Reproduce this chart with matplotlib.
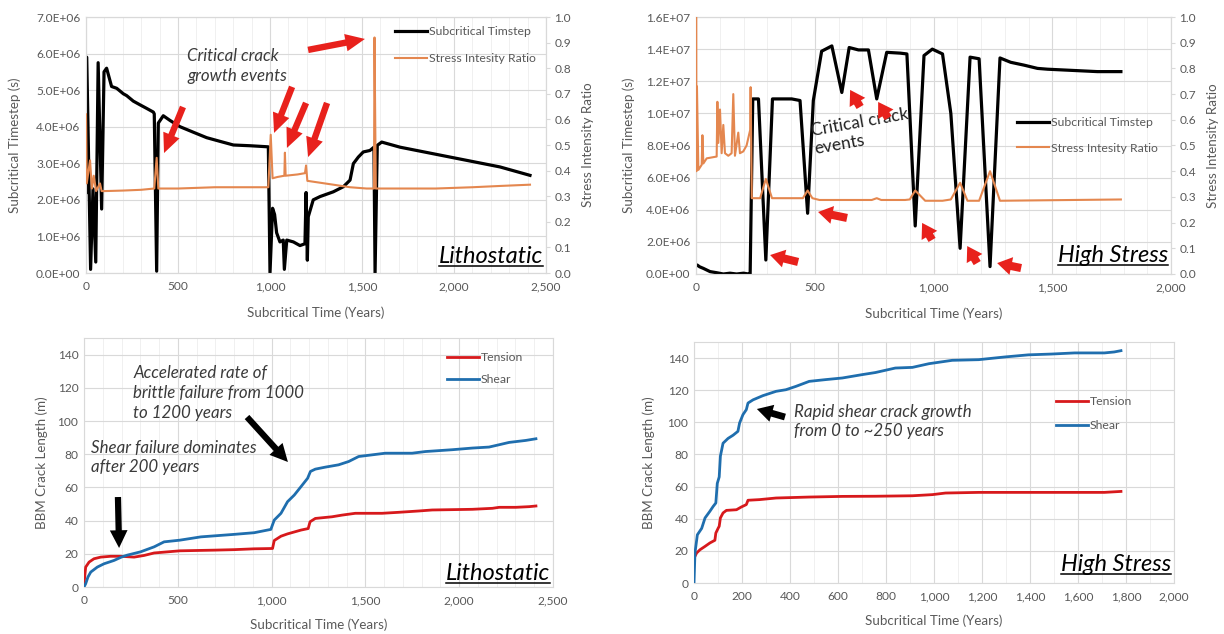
import matplotlib
matplotlib.use("Agg")
import matplotlib.pyplot as plt
from matplotlib.ticker import MultipleLocator, FuncFormatter
from matplotlib.lines import Line2D

plt.rcParams['font.family'] = ['Lato', 'DejaVu Sans']

# ---------------- DATA ----------------
# Top-left: Lithostatic, subcritical timestep (s, x1e6) and stress intensity ratio
litho_ts_years = [0, 4, 25, 38, 53, 66, 85, 98, 112, 139, 167, 203, 221, 257, 293, 330, 366, 371, 384, 393,
                  420, 457, 511, 583, 656, 728, 801, 891, 991, 1000, 1014, 1025, 1036, 1054, 1072, 1078, 1091,
                  1127, 1163, 1190, 1196, 1203, 1208, 1235, 1272, 1344, 1399, 1435, 1453, 1480, 1507, 1543,
                  1565, 1571, 1583, 1607, 1707, 1888, 2069, 2250, 2413]
litho_ts_e6 = [2.2, 5.9, 0.1, 2.3, 0.3, 5.75, 1.75, 5.5, 5.6, 5.1, 5.05, 4.9, 4.85, 4.7, 4.6, 4.5, 4.4, 4.35,
               0.05, 4.1, 4.3, 4.17, 4.0, 3.85, 3.7, 3.6, 3.5, 3.48, 3.45, 0.0, 1.77, 1.6, 1.1, 0.85, 0.9, 0.1,
               0.9, 0.85, 0.75, 0.8, 2.2, 0.35, 1.54, 2.0, 2.09, 2.22, 2.36, 2.54, 2.99, 3.17, 3.31, 3.35, 3.44,
               0.0, 3.49, 3.58, 3.44, 3.26, 3.08, 2.90, 2.67]
litho_sir_years = [0, 4, 22, 32, 42, 55, 76, 85, 103, 200, 300, 371, 384, 393, 500, 700, 991, 1004, 1014, 1040,
                   1078, 1081, 1085, 1150, 1190, 1196, 1203, 1250, 1344, 1435, 1525, 1565, 1568, 1575, 1700,
                   1900, 2100, 2250, 2413]
litho_sir = [0.62, 0.35, 0.44, 0.33, 0.38, 0.32, 0.35, 0.32, 0.32, 0.322, 0.325, 0.33, 0.45, 0.33, 0.33, 0.335,
             0.335, 0.54, 0.37, 0.375, 0.38, 0.47, 0.38, 0.385, 0.39, 0.42, 0.36, 0.355, 0.345, 0.335, 0.33,
             0.33, 0.92, 0.33, 0.33, 0.33, 0.335, 0.34, 0.345]

# Top-right: High Stress
high_ts_years = [0, 5, 15, 31, 59, 87, 115, 143, 171, 200, 222, 228, 239, 263, 294, 322, 403, 438, 470, 494,
                 529, 572, 614, 645, 684, 726, 761, 803, 860, 888, 923, 960, 995, 1038, 1073, 1112, 1154, 1192,
                 1238, 1280, 1325, 1382, 1438, 1480, 1550, 1620, 1690, 1789]
high_ts_e6 = [0.5, 0.56, 0.45, 0.35, 0.15, 0.08, 0.0, 0.05, 0.0, 0.05, 0.0, 0.0, 10.9, 10.9, 0.87, 10.9, 10.9,
              10.8, 3.78, 10.8, 13.87, 14.2, 11.3, 14.1, 13.95, 13.95, 10.9, 13.8, 13.75, 13.7, 2.99, 13.6,
              14.0, 13.7, 10.0, 1.6, 13.5, 13.4, 0.46, 13.45, 13.18, 13.0, 12.8, 12.75, 12.7, 12.65, 12.6, 12.6]
high_sir_years = [0, 0.5, 2, 4, 10, 24, 27, 31, 45, 87, 90, 94, 101, 108, 115, 122, 136, 150, 157, 164, 178,
                  185, 199, 213, 228, 230, 235, 270, 294, 320, 450, 470, 490, 520, 600, 700, 740, 761, 780, 880,
                  900, 923, 965, 1038, 1073, 1112, 1143, 1192, 1238, 1280, 1789]
high_sir = [0.73, 1.0, 0.40, 0.73, 0.405, 0.425, 0.54, 0.43, 0.45, 0.457, 0.67, 0.51, 0.64, 0.47, 0.58, 0.47,
            0.46, 0.47, 0.70, 0.46, 0.55, 0.47, 0.477, 0.50, 0.56, 0.727, 0.295, 0.295, 0.37, 0.295, 0.295,
            0.325, 0.295, 0.288, 0.288, 0.288, 0.288, 0.295, 0.288, 0.288, 0.29, 0.325, 0.285, 0.285, 0.29,
            0.355, 0.285, 0.285, 0.40, 0.285, 0.29]

# Bottom-left: Lithostatic BBM crack length (m)
litho_ten_years = [0, 9, 27, 53, 89, 142, 196, 267, 320, 374, 511, 694, 801, 907, 1005, 1014, 1050, 1085, 1157,
                   1195, 1205, 1233, 1286, 1322, 1375, 1446, 1589, 1678, 1785, 1856, 2070, 2177, 2213, 2302,
                   2373, 2409]
litho_tension = [2, 12, 15, 17, 18, 18.5, 18.5, 18, 19, 20.5, 21.8, 22.2, 22.5, 23, 23.2, 28, 30.6, 32, 34.3,
                 35.2, 39.3, 41.3, 41.9, 42.3, 43.3, 44.4, 44.4, 45, 45.8, 46.4, 46.8, 47.4, 48, 48, 48.4, 48.8]
litho_sh_years = [0, 9, 21, 36, 71, 107, 160, 199, 231, 302, 374, 427, 510, 623, 800, 907, 996, 1014, 1050,
                  1085, 1121, 1157, 1171, 1192, 1207, 1233, 1286, 1357, 1411, 1464, 1535, 1606, 1749, 1820,
                  1963, 2070, 2159, 2213, 2266, 2355, 2409]
litho_shear = [0, 2, 6, 9, 12, 14, 16, 18, 19.2, 21.2, 24.2, 27.2, 28.2, 30.2, 31.7, 32.7, 34.7, 40.3, 44.4,
               51.4, 55.4, 60.5, 62.5, 65.5, 69.6, 71, 72.2, 73.6, 75.6, 78.6, 79.6, 80.6, 80.6, 81.6, 82.7,
               83.7, 84.3, 85.7, 87.1, 88.3, 89.3]

# Bottom-right: High Stress BBM crack length (m)
high_ten_years = [0, 4, 11, 25, 46, 66, 87, 91, 101, 105, 110, 121, 135, 177, 197, 218, 225, 273, 342, 480,
                  618, 756, 910, 993, 1048, 1186, 1462, 1710, 1779]
high_tension = [16, 16.6, 18.7, 20.7, 22.8, 24.9, 26.6, 31.1, 34.2, 35.3, 40.5, 43.6, 45.2, 45.6, 47.3, 48.8,
                51.5, 51.9, 52.9, 53.5, 53.9, 54.0, 54.3, 55.0, 56.0, 56.4, 56.4, 56.4, 57.0]
high_sh_years = [0, 4, 14, 32, 46, 66, 80, 91, 97, 105, 110, 121, 142, 163, 183, 190, 204, 218, 225, 246, 287,
                 342, 383, 425, 480, 549, 618, 701, 756, 839, 910, 979, 1076, 1186, 1296, 1393, 1489, 1586,
                 1710, 1751, 1779]
high_shear = [0, 18.7, 30, 34, 40.5, 44.6, 47.7, 49.8, 62, 66, 79, 87, 90, 92, 94.4, 99.6, 104.8, 107.9, 112,
              114, 116.6, 119.3, 120.3, 122.4, 125.5, 126.6, 127.6, 129.7, 131, 133.8, 134.2, 136.5, 138.6, 139,
              140.7, 142, 142.5, 143.2, 143.2, 143.8, 144.6]

# labels
xlabel = "Subcritical Time (Years)"
ylabel_ts = "Subcritical Timestep (s)"
ylabel_sir = "Stress Intensity Ratio"
ylabel_len = "BBM Crack Length (m)"
leg_ts = ["Subcritical Timstep", "Stress Intesity Ratio"]
leg_len = ["Tension", "Shear"]

# ---------------- STYLE ----------------
W, H = 1224, 634
BLACK = "#000000"
ORANGE = "#E4874F"
RED = "#D7191C"
BLUE = "#1F6EAE"
ARROW_RED = "#E8211C"
GRID = "#D9D9D9"
MINOR = "#EEEEEE"
TXT = "#595959"
NOTE = "#3A3A3A"
TICKFS = 8.6
LABFS = 9.6
LEGFS = 8.8
NOTEFS = 12.2

fig = plt.figure(figsize=(W / 100, H / 100), dpi=100)


def add_ax(x0, x1, ytop, ybot):
    return fig.add_axes([x0 / W, 1 - ybot / H, (x1 - x0) / W, (ybot - ytop) / H])


def style(ax, minor_x=100):
    for s in ax.spines.values():
        s.set_color(GRID)
        s.set_linewidth(0.8)
    ax.tick_params(axis='both', which='both', length=0, colors=TXT, labelsize=TICKFS)
    ax.xaxis.set_minor_locator(MultipleLocator(minor_x))
    ax.grid(True, which='major', color=GRID, lw=0.8)
    ax.grid(True, which='minor', axis='x', color=MINOR, lw=0.6)
    ax.set_axisbelow(True)
    ax.xaxis.set_major_formatter(FuncFormatter(lambda v, p: f"{v:,.0f}"))
    ax.tick_params(axis='x', pad=6)
    ax.tick_params(axis='y', pad=4)


def sci(v, p):
    return f"{v:.1E}"


def arrow(ax, tail, head, color, tw, hw, hl, ms, trans=None):
    ax.annotate("", xy=head, xytext=tail, xycoords=trans or 'data', textcoords=trans or 'data',
                arrowprops=dict(arrowstyle=f"simple,head_length={hl},head_width={hw},tail_width={tw}",
                                color=color, lw=0, shrinkA=0, shrinkB=0, mutation_scale=ms),
                annotation_clip=False)


titles = []


def title_text(ax, x, y, s):
    t = ax.text(x, y, s, transform=ax.transAxes, ha='right', va='baseline', fontsize=17,
                style='italic', color=BLACK, zorder=10)
    titles.append((ax, t, y))


def twin_style(axb, label):
    axb.set_ylim(0, 1.0)
    axb.yaxis.set_major_locator(MultipleLocator(0.1))
    axb.yaxis.set_major_formatter(FuncFormatter(lambda v, p: f"{v:.1f}"))
    for s in axb.spines.values():
        s.set_color(GRID)
        s.set_linewidth(0.8)
    axb.tick_params(axis='y', length=3, color=GRID, labelcolor=TXT, labelsize=TICKFS, pad=3)
    axb.set_ylabel(label, fontsize=LABFS, color=TXT, labelpad=8)


# ---------------- TOP-LEFT ----------------
ax1 = add_ax(86, 546, 17, 273)
style(ax1)
ax1.plot(litho_ts_years, [v * 1e6 for v in litho_ts_e6], color=BLACK, lw=2.3, zorder=3)
ax1.set_xlim(0, 2500)
ax1.set_ylim(0, 7e6)
ax1.xaxis.set_major_locator(MultipleLocator(500))
ax1.yaxis.set_major_locator(MultipleLocator(1e6))
ax1.yaxis.set_major_formatter(FuncFormatter(sci))
ax1.set_xlabel(xlabel, fontsize=LABFS, color=TXT, labelpad=10)
ax1.set_ylabel(ylabel_ts, fontsize=LABFS, color=TXT, labelpad=11)
ax1b = ax1.twinx()
ax1b.plot(litho_sir_years, litho_sir, color=ORANGE, lw=1.5, zorder=3)
twin_style(ax1b, ylabel_sir)
h1 = [Line2D([], [], color=BLACK, lw=2.3), Line2D([], [], color=ORANGE, lw=1.5)]
ax1b.legend(h1, leg_ts, loc='upper left', bbox_to_anchor=(395 / W, 1 - 26 / H), bbox_transform=fig.transFigure,
            frameon=False, fontsize=LEGFS, labelcolor=TXT, handlelength=2.6, handletextpad=0.15,
            labelspacing=1.35, borderpad=0, borderaxespad=0)
ax1b.text(549, 5.66e6, "Critical crack\ngrowth events", transform=ax1.transData, ha='left', va='center',
          fontsize=NOTEFS, style='italic', color=NOTE, linespacing=1.3)
tl_arrows = [((527, 4.54e6), (424, 3.28e6)), ((1120, 5.09e6), (1022, 3.83e6)),
             ((1196, 4.65e6), (1092, 3.42e6)), ((1310, 4.65e6), (1207, 3.17e6)),
             ((1207, 6.10e6), (1516, 6.40e6))]
for tail, head in tl_arrows:
    arrow(ax1b, tail, head, ARROW_RED, 0.33, 0.9, 1.0, 14, trans=ax1.transData)
title_text(ax1b, 0.9935, 0.04, "Lithostatic")

# ---------------- TOP-RIGHT ----------------
ax2 = add_ax(696, 1171, 17, 274)
style(ax2)
ax2.plot(high_ts_years, [v * 1e6 for v in high_ts_e6], color=BLACK, lw=2.3, zorder=3)
ax2.set_xlim(0, 2000)
ax2.set_ylim(0, 1.6e7)
ax2.xaxis.set_major_locator(MultipleLocator(500))
ax2.yaxis.set_major_locator(MultipleLocator(2e6))
ax2.yaxis.set_major_formatter(FuncFormatter(sci))
ax2.set_xlabel(xlabel, fontsize=LABFS, color=TXT, labelpad=10)
ax2.set_ylabel(ylabel_ts, fontsize=LABFS, color=TXT, labelpad=8)
ax2b = ax2.twinx()
ax2b.plot(high_sir_years, high_sir, color=ORANGE, lw=1.5, zorder=3)
twin_style(ax2b, ylabel_sir)
ax2b.legend(h1, leg_ts, loc='upper left', bbox_to_anchor=(1017 / W, 1 - 117 / H), bbox_transform=fig.transFigure,
            frameon=False, fontsize=LEGFS, labelcolor=TXT, handlelength=2.6, handletextpad=0.15,
            labelspacing=1.2, borderpad=0, borderaxespad=0)
ax2b.text(501, 7.6e6, "Critical crack\nevents", transform=ax2.transData, ha='left', va='baseline',
          rotation=10, rotation_mode='anchor', fontsize=12.5, color="#222222", linespacing=1.2)
tr_arrows = [((430, 0.75e6), (312, 1.18e6)), ((636, 3.49e6), (514, 3.86e6)), ((691, 10.4e6), (649, 11.46e6)),
             ((809, 9.71e6), (767, 10.71e6)), ((994, 2.12e6), (952, 3.18e6)), ((1184, 0.68e6), (1142, 1.74e6)),
             ((1369, 0.37e6), (1268, 0.68e6))]
for tail, head in tr_arrows:
    arrow(ax2b, tail, head, ARROW_RED, 0.45, 1.0, 0.8, 13, trans=ax2.transData)
title_text(ax2b, 0.9935, 0.045, "High Stress")

# ---------------- BOTTOM-LEFT ----------------
ax3 = add_ax(84, 553, 338, 587)
style(ax3)
ax3.plot(litho_ten_years, litho_tension, color=RED, lw=2.0, zorder=3)
ax3.plot(litho_sh_years, litho_shear, color=BLUE, lw=2.0, zorder=3)
ax3.set_xlim(0, 2500)
ax3.set_ylim(0, 150)
ax3.xaxis.set_major_locator(MultipleLocator(500))
ax3.set_yticks(range(0, 141, 20))
ax3.set_xlabel(xlabel, fontsize=LABFS, color=TXT, labelpad=9)
ax3.set_ylabel(ylabel_len, fontsize=LABFS, color=TXT, labelpad=7)
h2 = [Line2D([], [], color=RED, lw=2.0), Line2D([], [], color=BLUE, lw=2.0)]
ax3.legend(h2, leg_len, loc='upper left', bbox_to_anchor=(447 / W, 1 - 352 / H), bbox_transform=fig.transFigure,
           frameon=False, fontsize=LEGFS, labelcolor=TXT, handlelength=2.6, handletextpad=0.15,
           labelspacing=0.9, borderpad=0, borderaxespad=0)
ax3.text(262, 117, "Accelerated rate of\nbrittle failure from 1000\nto 1200 years", ha='left', va='center',
         fontsize=NOTEFS, style='italic', color=NOTE, linespacing=1.3)
ax3.text(38, 78, "Shear failure dominates\nafter 200 years", ha='left', va='center',
         fontsize=NOTEFS, style='italic', color=NOTE, linespacing=1.3)
arrow(ax3, (869, 102.4), (1087, 75.3), BLACK, 0.3, 0.85, 0.85, 15)
arrow(ax3, (181, 54.2), (187, 23.5), BLACK, 0.3, 0.85, 0.85, 15)
title_text(ax3, 0.9935, 0.03, "Lithostatic")

# ---------------- BOTTOM-RIGHT ----------------
ax4 = add_ax(694, 1174, 342, 583)
style(ax4)
ax4.plot(high_ten_years, high_tension, color=RED, lw=2.0, zorder=3)
ax4.plot(high_sh_years, high_shear, color=BLUE, lw=2.0, zorder=3)
ax4.set_xlim(0, 2000)
ax4.set_ylim(0, 150)
ax4.xaxis.set_major_locator(MultipleLocator(200))
ax4.set_yticks(range(0, 141, 20))
ax4.set_xlabel(xlabel, fontsize=LABFS, color=TXT, labelpad=9)
ax4.set_ylabel(ylabel_len, fontsize=LABFS, color=TXT, labelpad=9)
ax4.legend(h2, leg_len, loc='upper left', bbox_to_anchor=(1056 / W, 1 - 396 / H), bbox_transform=fig.transFigure,
           frameon=False, fontsize=LEGFS, labelcolor=TXT, handlelength=2.6, handletextpad=0.15,
           labelspacing=1.05, borderpad=0, borderaxespad=0)
ax4.text(418, 100.5, "Rapid shear crack growth\nfrom 0 to ~250 years", ha='left', va='center',
         fontsize=NOTEFS, style='italic', color=NOTE, linespacing=1.3)
arrow(ax4, (379, 103.3), (262, 108.3), BLACK, 0.35, 0.9, 0.8, 14)
title_text(ax4, 0.9935, 0.05, "High Stress")

# ---------------- underline titles ----------------
fig.canvas.draw()
renderer = fig.canvas.get_renderer()
for ax, t, y in titles:
    bb = t.get_window_extent(renderer)
    base_px = ax.transAxes.transform((0, y))[1]
    yl = base_px - 3
    fig.add_artist(Line2D([bb.x0 / W, bb.x1 / W], [yl / H, yl / H], transform=fig.transFigure,
                          color=BLACK, lw=1.1))

fig.savefig("out.png", dpi=100)
